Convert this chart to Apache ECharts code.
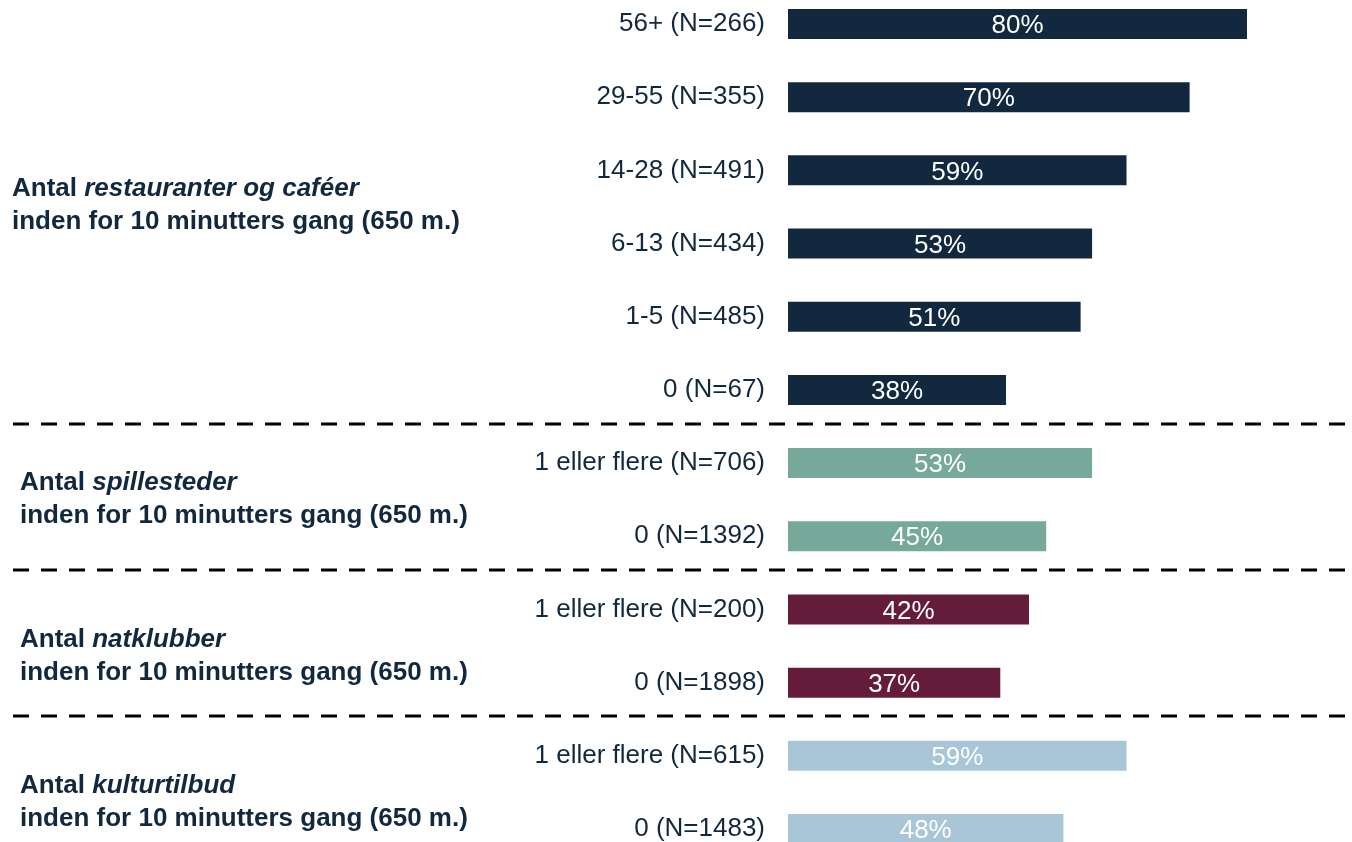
<!DOCTYPE html>
<html>
<head>
<meta charset="utf-8">
<script src="https://cdn.jsdelivr.net/npm/echarts@6/dist/echarts.min.js"></script>
<style>
  html, body { margin: 0; padding: 0; background: #ffffff; }
  #chart { width: 1352px; height: 842px; }
</style>
</head>
<body>
<div id="chart"></div>
<script>
// kategorier (top til bund)
const categories = [
  '56+ (N=266)', '29-55 (N=355)', '14-28 (N=491)', '6-13 (N=434)', '1-5 (N=485)', '0 (N=67)',
  '1 eller flere (N=706)', '0 (N=1392)',
  '1 eller flere (N=200)', '0 (N=1898)',
  '1 eller flere (N=615)', '0 (N=1483)'
]
const values = [80, 70, 59, 53, 51, 38, 53, 45, 42, 37, 59, 48]
// gruppe for hver kategori
const groupOf = [0, 0, 0, 0, 0, 0, 1, 1, 2, 2, 3, 3]
const groupColors = ['#12283e', '#76a99a', '#651c3b', '#a8c6d7']
const groupNames = ['restauranter og caféer', 'spillesteder', 'natklubber', 'kulturtilbud']
const groupLabelPos = [[12, 187], [20, 481], [20, 638], [20, 784]]

const textColor = '#12283e'
const font = '"Liberation Sans", Arial, sans-serif'

const chart = echarts.init(document.getElementById('chart'))

const option = {
  backgroundColor: '#ffffff',
  animation: false,
  grid: { left: 788, top: 24, bottom: 10, right: 0, containLabel: false },
  xAxis: {
    type: 'value',
    min: 0,
    max: 98.3,
    show: false
  },
  yAxis: {
    type: 'category',
    data: categories,
    inverse: true,
    boundaryGap: false,
    axisLine: { show: false },
    axisTick: { show: false },
    splitLine: { show: false },
    axisLabel: {
      margin: 23,
      color: textColor,
      fontFamily: font,
      fontSize: 26
    }
  },
  series: [{
    type: 'bar',
    barWidth: 30,
    data: values.map((v, i) => ({
      value: v,
      itemStyle: { color: groupColors[groupOf[i]] }
    })),
    label: {
      show: true,
      position: 'inside',
      offset: [0, 2],
      formatter: '{c}%',
      color: '#ffffff',
      fontFamily: font,
      fontSize: 26
    }
  }]
}

chart.setOption(option)

// stiplede skillelinjer mellem grupper + gruppetekster
const graphics = []
for (let i = 1; i < categories.length; i++) {
  if (groupOf[i] !== groupOf[i - 1]) {
    const y0 = chart.convertToPixel({ yAxisIndex: 0 }, i - 1)
    const y1 = chart.convertToPixel({ yAxisIndex: 0 }, i)
    const y = Math.round((y0 + y1) / 2 - 3)
    graphics.push({
      type: 'line',
      shape: { x1: 13, y1: y, x2: 1352, y2: y },
      style: { stroke: '#000000', lineWidth: 3, lineDash: [16, 12] }
    })
  }
}
groupNames.forEach((name, g) => {
  graphics.push({
    type: 'text',
    left: groupLabelPos[g][0],
    top: groupLabelPos[g][1] - 11,
    style: {
      text: '{b|Antal }{bi|' + name + '}\n{b|inden for 10 minutters gang (650 m.)}',
      rich: {
        b: { fontFamily: font, fontSize: 26, fontWeight: 'bold', fill: textColor, lineHeight: 33 },
        bi: { fontFamily: font, fontSize: 26, fontWeight: 'bold', fontStyle: 'italic', fill: textColor, lineHeight: 33 }
      }
    }
  })
})
chart.setOption({ graphic: graphics })
</script>
</body>
</html>
